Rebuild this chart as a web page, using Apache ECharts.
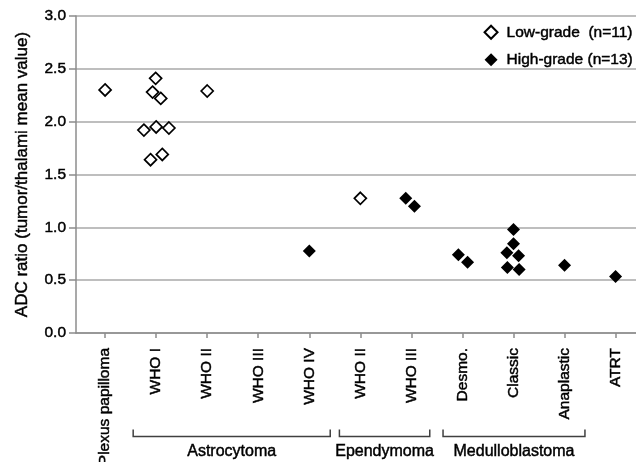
<!DOCTYPE html>
<html>
<head>
<meta charset="utf-8">
<script src="https://cdn.jsdelivr.net/npm/echarts@6/dist/echarts.min.js"></script>
<style>
  html, body { margin: 0; padding: 0; background: #fff; }
  #chart { width: 636px; height: 462px; }
</style>
</head>
<body>
<div id="chart"></div>
<script>
// ADC ratio by tumour type, low- vs high-grade, with bracketed group labels under the x axis.
const categories = ['Plexus papilloma', 'WHO I', 'WHO II', 'WHO III', 'WHO IV',
  'WHO II', 'WHO III', 'Desmo.', 'Classic', 'Anaplastic', 'ATRT'];
const categoryPos = [1, 2, 3, 4, 5, 6, 7, 8, 9, 10, 11];

// [x position (category + jitter), ADC ratio]
const lowGrade = [
  [1.0, 2.30],
  [1.99, 2.41], [1.93, 2.28], [2.09, 2.22], [1.76, 1.92], [2.0, 1.95],
  [2.25, 1.94], [1.89, 1.64], [2.12, 1.69],
  [3.0, 2.29],
  [6.0, 1.275],
];
const highGrade = [
  [5.0, 0.775],
  [6.89, 1.275], [7.06, 1.20],
  [7.92, 0.74], [8.10, 0.67],
  [9.0, 0.98], [9.0, 0.845], [8.87, 0.76], [9.10, 0.73], [8.88, 0.62], [9.11, 0.60],
  [10.0, 0.64],
  [11.0, 0.535],
];

const groupNames = ['Astrocytoma', 'Ependymoma', 'Medulloblastoma'];
const groupStart = [1.55, 5.59, 7.62];
const groupEnd = [5.41, 7.36, 10.4];

const FONT = '"Liberation Sans", Arial, sans-serif';
const GRID_C = '#a8a8a8';
const AXIS_C = '#8c8c8c';
// the scanned original has heavy type; a hairline stroke thickens the glyphs a little
const INK = { color: '#000', fontFamily: FONT, textBorderColor: '#000', textBorderWidth: 0.45 };

const chart = echarts.init(document.getElementById('chart'));

chart.setOption({
  animation: false,
  backgroundColor: '#fff',
  textStyle: { fontFamily: FONT, color: '#000' },
  grid: { left: 76, right: 0, top: 16, bottom: 129, outerBoundsMode: 'none' },
  legend: {
    orient: 'vertical', right: 3, top: 24, padding: 0,
    itemWidth: 13, itemHeight: 13, itemGap: 11,
    textStyle: { ...INK, fontSize: 15.5, padding: [0, 0, 0, 4] },
    data: ['Low-grade  (n=11)', 'High-grade (n=13)'],
  },
  xAxis: {
    type: 'value', min: 0.43, max: 11.4,
    splitLine: { show: false },
    axisLine: { lineStyle: { color: AXIS_C, width: 1.5 } },
    axisTick: { customValues: categoryPos, length: 5, lineStyle: { color: AXIS_C, width: 1.5 } },
    axisLabel: {
      ...INK, customValues: categoryPos, rotate: 90, margin: 15, fontSize: 15.5,
      formatter: v => categories[Math.round(v) - 1],
    },
  },
  yAxis: {
    type: 'value', min: 0, max: 3, interval: 0.5,
    name: 'ADC ratio (tumor/thalami mean value)',
    nameLocation: 'middle', nameGap: 45,
    nameTextStyle: { ...INK, fontSize: 17 },
    axisLine: { show: true, lineStyle: { color: AXIS_C, width: 1.5 } },
    axisTick: { show: true, length: 7, lineStyle: { color: AXIS_C, width: 1.5 } },
    axisLabel: { ...INK, margin: 10, fontSize: 15.5, formatter: v => v.toFixed(1) },
    splitLine: { lineStyle: { color: GRID_C, width: 1.5 } },
  },
  series: [
    {
      name: 'Low-grade  (n=11)', type: 'scatter', symbol: 'diamond', symbolSize: 12,
      itemStyle: { color: '#fff', borderColor: '#000', borderWidth: 1.7, opacity: 1 },
      data: lowGrade,
    },
    {
      name: 'High-grade (n=13)', type: 'scatter', symbol: 'diamond', symbolSize: 13,
      itemStyle: { color: '#000', opacity: 1 },
      data: highGrade,
    },
  ],
});

// bracket annotations under the category labels
const base = chart.convertToPixel({ yAxisIndex: 0 }, 0);
const graphic = [];
groupNames.forEach((name, i) => {
  const x0 = chart.convertToPixel({ xAxisIndex: 0 }, groupStart[i]);
  const x1 = chart.convertToPixel({ xAxisIndex: 0 }, groupEnd[i]);
  const yl = base + 103.5;
  graphic.push({
    type: 'polyline', silent: true,
    shape: { points: [[x0, yl - 7], [x0, yl], [x1, yl], [x1, yl - 7]] },
    style: { stroke: '#404040', lineWidth: 1.5, fill: null },
  });
  graphic.push({
    type: 'text', silent: true,
    x: (x0 + x1) / 2, y: base + 118.5,
    style: {
      text: name, fill: '#000', font: '16px ' + FONT, align: 'center', verticalAlign: 'middle',
      stroke: '#000', lineWidth: 0.45,
    },
  });
});
chart.setOption({ graphic });
</script>
</body>
</html>
